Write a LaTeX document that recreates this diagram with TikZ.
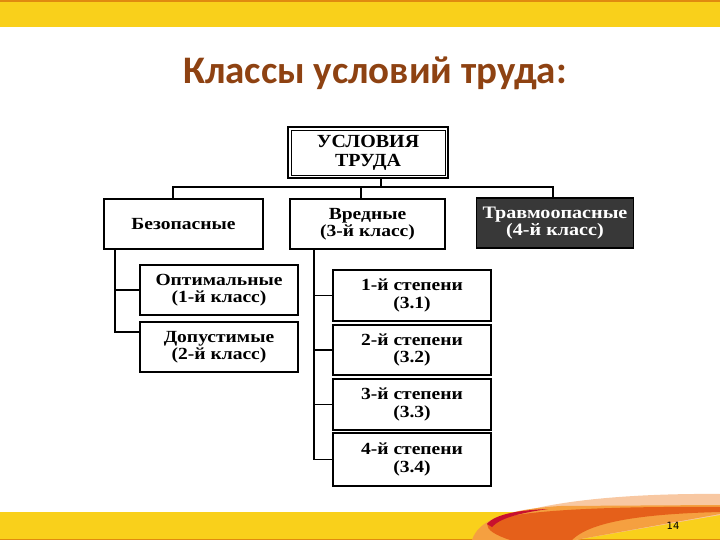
\documentclass[tikz,border=0pt]{standalone}
\usepackage{fontspec}
\newfontfamily\titlefont{Carlito}
\newfontfamily\boxfont[FakeStretch=1.15]{Liberation Serif}
\newfontfamily\capfont[FakeStretch=1.08]{Liberation Serif}
\newfontfamily\numfont{DejaVu Sans}
\definecolor{bandyellow}{HTML}{F9D01B}
\definecolor{bandorange}{HTML}{E08A10}
\definecolor{titlebrown}{HTML}{8E4212}
\definecolor{peach}{HTML}{F8C8A2}
\definecolor{lightorange}{HTML}{F5A040}
\definecolor{mainorange}{HTML}{E5601A}
\definecolor{crimson}{HTML}{C8102E}
\begin{document}
\begin{tikzpicture}[x=1pt,y=-1pt,
  box/.style={draw, line width=1.3pt, minimum width=158pt, minimum height=50pt,
    inner sep=0pt, align=center, font=\boxfont\bfseries\fontsize{17}{17.5}\selectfont},
  conn/.style={draw, line width=1.2pt}]
\useasboundingbox (0,0) rectangle (720,540);
% top band
\fill[bandyellow] (0,0) rectangle (720,27);
\fill[bandorange] (0,0) rectangle (720,2);
% bottom band
\fill[bandyellow] (0,512) rectangle (720,540);
\fill[bandorange] (0,538.5) rectangle (720,540);
% swoosh
\fill[peach] (474,540) .. controls (490,503) and (620,493) .. (720,494) -- (720,515) -- (575,540) -- cycle;
\fill[lightorange] (472,540) .. controls (478,522) and (500,510) .. (560,506) -- (720,505) -- (720,514) -- (575,540) -- cycle;
\fill[mainorange] (487,524) .. controls (500,511) and (600,506) .. (720,507) -- (720,512) .. controls (640,514) and (590,522) .. (572,540) -- (510,540) .. controls (495,535) and (487,530) .. (487,524) -- cycle;
\fill[crimson] (487,524) .. controls (495,514) and (520,510) .. (548,509) .. controls (520,513) and (500,518) .. (492,527) -- cycle;
\node[font=\numfont\fontsize{10}{10}\selectfont] (num) at (673,526) {14};
% title
\node[font=\titlefont\bfseries\fontsize{39}{39}\selectfont, text=titlebrown] (title) at (375,73) {Классы условий труда:};
% nodes
\node[box, line width=2pt, minimum width=160pt, minimum height=51pt,
  font=\capfont\bfseries\fontsize{18.5}{19}\selectfont] (top) at (368,153) {УСЛОВИЯ\\ТРУДА};
\draw[line width=0.6pt] ([shift={(4,4)}]top.north west) rectangle ([shift={(-4,-4)}]top.south east);
\node[box, minimum width=159pt] (bez) at (183.5,224) {Безопасные};
\node[box, minimum width=155pt] (vred) at (367.5,224) {Вредные\\(3-й класс)};
\node[box, minimum width=157pt, fill=black!78, text=white, line width=1.6pt,
  font=\boxfont\bfseries\fontsize{17.5}{17.5}\selectfont] (trav) at (555,223) {Травмоопасные\\(4-й класс)};
\node[box] (opt) at (219,290) {Оптимальные\\(1-й класс)};
\node[box] (dop) at (219,347) {Допустимые\\(2-й класс)};
\node[box, minimum height=51pt] (s1) at (412,295.5) {1-й степени\\(3.1)};
\node[box] (s2) at (412,350) {2-й степени\\(3.2)};
\node[box, minimum height=51pt] (s3) at (412,404.5) {3-й степени\\(3.3)};
\node[box, minimum height=53pt] (s4) at (412,459.5) {4-й степени\\(3.4)};
% coordinates
\coordinate (tv) at (381,0);
\coordinate (busl) at (173,187);
\coordinate (busr) at (553,187);
\coordinate (vv) at (361,0);
\coordinate (lbus) at (115,0);
\coordinate (rbus) at (314,0);
% connectors
\draw[conn] (top.south -| tv) -- (tv |- busl);
\draw[conn] (busl |- bez.north) -- (busl) -- (busr) -- (busr |- trav.north);
\draw[conn] (vv |- busl) -- (vv |- vred.north);
\draw[conn] (lbus |- bez.south) |- (opt.west);
\draw[conn] (lbus |- opt.west) |- ([yshift=15pt]dop.west);
\draw[conn] (rbus |- vred.south) |- (s4.west);
\draw[conn] (rbus |- s1.west) -- (s1.west);
\draw[conn] (rbus |- s2.west) -- (s2.west);
\draw[conn] (rbus |- s3.west) -- (s3.west);
\end{tikzpicture}
\end{document}
